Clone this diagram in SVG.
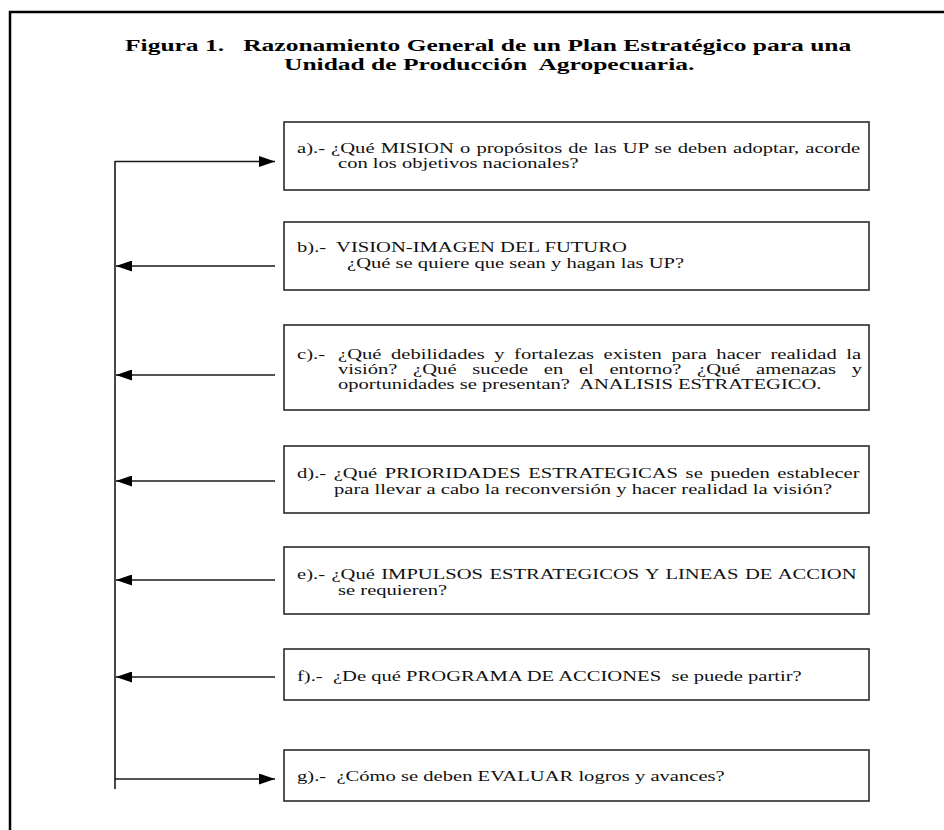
<svg xmlns="http://www.w3.org/2000/svg" width="944" height="830" viewBox="0 0 944 830">
  <style>
    .frame{fill:none;stroke:#000;stroke-width:2.5}
    .box{fill:#fff;stroke:#2b2b2b;stroke-width:1.6}
    .conn{fill:none;stroke:#1a1a1a;stroke-width:1.6}
    .t{font-family:"Liberation Serif","Times New Roman",serif;font-size:14.5px;fill:#111}
    .title{font-family:"Liberation Serif","Times New Roman",serif;font-size:17px;font-weight:bold;fill:#000}
  </style>
  <defs>
    <marker id="ah" markerUnits="userSpaceOnUse" markerWidth="16" markerHeight="11" refX="16" refY="5.5" orient="auto">
      <path d="M0,0 L16,5.5 L0,11 Z" fill="#000"/>
    </marker>
  </defs>

  <rect width="944" height="830" fill="#fff"/>
  <!-- page frame (left and top edges) -->
  <path class="frame" d="M10,830 V12 H944"/>

  <g id="title">
    <text class="title" transform="translate(125 51) scale(1.5 1)">Figura 1.&#160;&#160; Razonamiento General de un Plan Estratégico para una</text>
    <text class="title" transform="translate(284 70) scale(1.5 1)">Unidad de Producción&#160; Agropecuaria.</text>
  </g>

  <g id="node-a">
    <rect class="box" x="284" y="122" width="585" height="68"/>
    <text class="t" transform="translate(297 153) scale(1.42 1)" word-spacing="0.7">a).- ¿Qué MISION o propósitos de las UP se deben adoptar, acorde</text>
    <text class="t" transform="translate(338 168) scale(1.42 1)">con los objetivos nacionales?</text>
  </g>

  <g id="node-b">
    <rect class="box" x="284" y="222" width="585" height="68"/>
    <text class="t" transform="translate(297 252) scale(1.42 1)">b).-&#160; VISION-IMAGEN DEL FUTURO</text>
    <text class="t" transform="translate(347 268) scale(1.42 1)">¿Qué se quiere que sean y hagan las UP?</text>
  </g>

  <g id="node-c">
    <rect class="box" x="284" y="325" width="585" height="85"/>
    <text class="t" transform="translate(297 359) scale(1.42 1)">c).-</text>
    <text class="t" transform="translate(338 359) scale(1.42 1)" word-spacing="3.1">¿Qué debilidades y fortalezas existen para hacer realidad la</text>
    <text class="t" transform="translate(338 374) scale(1.42 1)" word-spacing="7.4">visión? ¿Qué sucede en el entorno? ¿Qué amenazas y</text>
    <text class="t" transform="translate(338 389) scale(1.42 1)">oportunidades se presentan?&#160; ANALISIS ESTRATEGICO.</text>
  </g>

  <g id="node-d">
    <rect class="box" x="284" y="446" width="585" height="67"/>
    <text class="t" transform="translate(297 478) scale(1.42 1)" word-spacing="1.7">d).- ¿Qué PRIORIDADES ESTRATEGICAS se pueden establecer</text>
    <text class="t" transform="translate(334 494) scale(1.42 1)">para llevar a cabo la reconversión y hacer realidad la visión?</text>
  </g>

  <g id="node-e">
    <rect class="box" x="284" y="547" width="585" height="67"/>
    <text class="t" transform="translate(297 579) scale(1.42 1)" word-spacing="0.9">e).- ¿Qué IMPULSOS ESTRATEGICOS Y LINEAS DE ACCION</text>
    <text class="t" transform="translate(338 595) scale(1.42 1)">se requieren?</text>
  </g>

  <g id="node-f">
    <rect class="box" x="284" y="649" width="585" height="51"/>
    <text class="t" transform="translate(297 681) scale(1.42 1)">f).-&#160; ¿De qué PROGRAMA DE ACCIONES&#160; se puede partir?</text>
  </g>

  <g id="node-g">
    <rect class="box" x="284" y="750" width="585" height="51"/>
    <text class="t" transform="translate(297 781) scale(1.42 1)">g).-&#160; ¿Cómo se deben EVALUAR logros y avances?</text>
  </g>

  <g id="connectors">
    <path class="conn" d="M115,161 V789"/>
    <path class="conn" d="M115,161.5 H275" marker-end="url(#ah)"/>
    <path class="conn" d="M275,266 H116" marker-end="url(#ah)"/>
    <path class="conn" d="M275,375 H116" marker-end="url(#ah)"/>
    <path class="conn" d="M275,481 H116" marker-end="url(#ah)"/>
    <path class="conn" d="M275,580 H116" marker-end="url(#ah)"/>
    <path class="conn" d="M275,677 H116" marker-end="url(#ah)"/>
    <path class="conn" d="M115,779 H275" marker-end="url(#ah)"/>
  </g>
</svg>
